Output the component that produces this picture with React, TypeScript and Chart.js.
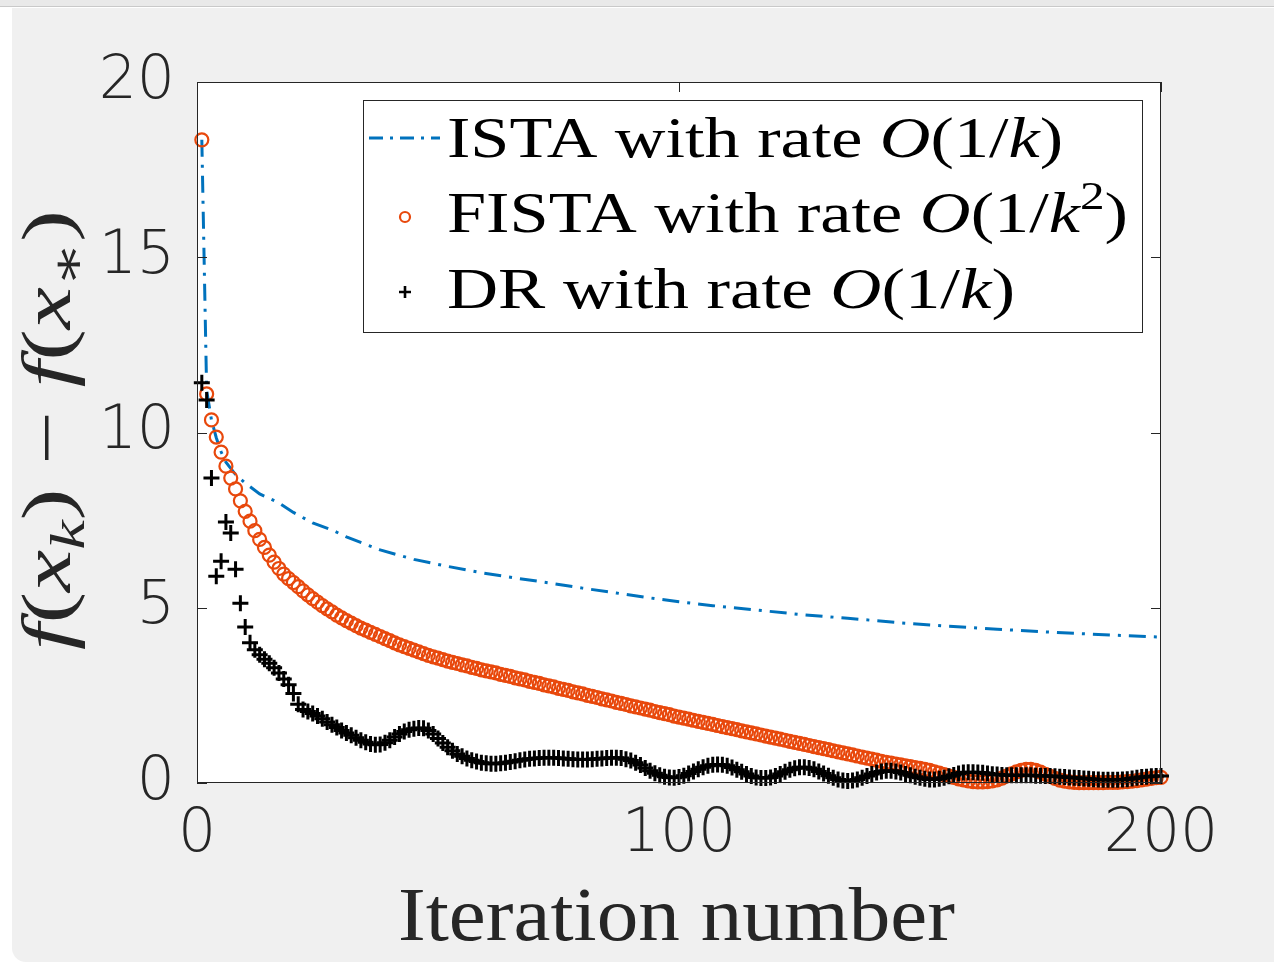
import React, { useEffect, useRef } from 'react';
import { Chart, registerables } from 'chart.js';

Chart.register(...registerables);

// ---------- data ----------
const xTicks = [0, 100, 200];
const yTicks = [0, 5, 10, 15, 20];

const istaIterations = [1, 2, 3, 4, 5, 6, 8, 10, 13, 17, 20, 24, 28, 31, 38, 45, 52, 59, 66, 73, 80, 87, 94, 100, 107, 115, 125, 135, 146, 156, 166, 176, 187, 200];
const istaValues = [18.35, 11.2, 10.36, 9.85, 9.45, 9.15, 8.8, 8.56, 8.25, 7.99, 7.72, 7.42, 7.22, 7.02, 6.65, 6.38, 6.18, 6.0, 5.85, 5.71, 5.56, 5.42, 5.28, 5.17, 5.06, 4.95, 4.81, 4.7, 4.57, 4.47, 4.39, 4.31, 4.24, 4.16];

const fistaValues = [
  18.35, 11.1, 10.36, 9.87, 9.44, 9.04, 8.7, 8.39, 8.05, 7.75,
  7.47, 7.2, 6.95, 6.72, 6.5, 6.3, 6.12, 5.96, 5.83, 5.72,
  5.6, 5.48, 5.37, 5.26, 5.16, 5.06, 4.97, 4.88, 4.79, 4.71,
  4.63, 4.56, 4.49, 4.42, 4.36, 4.3, 4.24, 4.18, 4.12, 4.06,
  4.0, 3.94, 3.89, 3.84, 3.79, 3.74, 3.69, 3.64, 3.6, 3.56,
  3.52, 3.48, 3.44, 3.41, 3.37, 3.34, 3.3, 3.27, 3.23, 3.2,
  3.17, 3.14, 3.1, 3.07, 3.04, 3.0, 2.97, 2.94, 2.9, 2.87,
  2.84, 2.8, 2.77, 2.74, 2.7, 2.67, 2.64, 2.6, 2.57, 2.54,
  2.5, 2.47, 2.44, 2.4, 2.37, 2.34, 2.3, 2.27, 2.24, 2.2,
  2.17, 2.14, 2.11, 2.08, 2.04, 2.01, 1.98, 1.95, 1.91, 1.88,
  1.85, 1.82, 1.79, 1.76, 1.73, 1.7, 1.67, 1.64, 1.61, 1.58,
  1.55, 1.52, 1.49, 1.46, 1.43, 1.4, 1.37, 1.34, 1.31, 1.28,
  1.25, 1.22, 1.19, 1.16, 1.13, 1.1, 1.07, 1.04, 1.01, 0.98,
  0.95, 0.92, 0.89, 0.86, 0.83, 0.8, 0.77, 0.74, 0.71, 0.68,
  0.65, 0.62, 0.59, 0.57, 0.54, 0.52, 0.49, 0.47, 0.44, 0.42,
  0.39, 0.36, 0.32, 0.28, 0.24, 0.2, 0.16, 0.12, 0.09, 0.06,
  0.04, 0.03, 0.03, 0.04, 0.06, 0.09, 0.14, 0.2, 0.26, 0.32,
  0.36, 0.39, 0.39, 0.36, 0.31, 0.25, 0.19, 0.13, 0.08, 0.05,
  0.03, 0.02, 0.01, 0.01, 0.01, 0.01, 0.01, 0.01, 0.02, 0.02,
  0.02, 0.03, 0.04, 0.05, 0.07, 0.09, 0.11, 0.13, 0.15, 0.16,
];

const drValues = [
  11.42, 10.93, 8.7, 5.9, 6.33, 7.45, 7.13, 6.1, 5.13, 4.45,
  4.0, 3.8, 3.66, 3.53, 3.42, 3.29, 3.14, 2.97, 2.8, 2.55,
  2.25, 2.1, 2.04, 1.98, 1.91, 1.83, 1.74, 1.66, 1.58, 1.5,
  1.43, 1.36, 1.29, 1.22, 1.16, 1.11, 1.09, 1.1, 1.15, 1.22,
  1.31, 1.4, 1.47, 1.52, 1.55, 1.57, 1.56, 1.5, 1.4, 1.27,
  1.14, 1.02, 0.92, 0.83, 0.76, 0.7, 0.65, 0.61, 0.58, 0.56,
  0.55, 0.55, 0.56, 0.58, 0.6, 0.62, 0.65, 0.67, 0.69, 0.7,
  0.71, 0.72, 0.72, 0.72, 0.71, 0.7, 0.69, 0.68, 0.67, 0.67,
  0.67, 0.68, 0.69, 0.7, 0.71, 0.72, 0.72, 0.71, 0.68, 0.64,
  0.58, 0.51, 0.43, 0.35, 0.28, 0.22, 0.18, 0.16, 0.15, 0.17,
  0.21, 0.27, 0.33, 0.39, 0.45, 0.49, 0.52, 0.53, 0.52, 0.49,
  0.44, 0.38, 0.32, 0.26, 0.2, 0.16, 0.14, 0.14, 0.16, 0.2,
  0.26, 0.32, 0.38, 0.42, 0.45, 0.45, 0.43, 0.39, 0.33, 0.27,
  0.21, 0.15, 0.1, 0.07, 0.06, 0.07, 0.1, 0.15, 0.2, 0.26,
  0.3, 0.33, 0.35, 0.35, 0.33, 0.3, 0.26, 0.22, 0.18, 0.15,
  0.12, 0.1, 0.1, 0.12, 0.15, 0.19, 0.23, 0.27, 0.3, 0.31,
  0.31, 0.3, 0.29, 0.27, 0.25, 0.24, 0.23, 0.22, 0.22, 0.22,
  0.22, 0.22, 0.22, 0.21, 0.21, 0.2, 0.2, 0.19, 0.18, 0.17,
  0.16, 0.15, 0.14, 0.13, 0.12, 0.11, 0.1, 0.09, 0.09, 0.09,
  0.09, 0.1, 0.11, 0.13, 0.15, 0.17, 0.18, 0.19, 0.2, 0.2,
];

type Seg = { t: string; i?: boolean; sub?: boolean; sup?: boolean };

const istaLabel: Seg[] = [{ t: 'ISTA with rate ' }, { t: 'O', i: true }, { t: '(1/' }, { t: 'k', i: true }, { t: ')' }];
const fistaLabel: Seg[] = [{ t: 'FISTA with rate ' }, { t: 'O', i: true }, { t: '(1/' }, { t: 'k', i: true }, { t: '2', sup: true }, { t: ')' }];
const drLabel: Seg[] = [{ t: 'DR with rate ' }, { t: 'O', i: true }, { t: '(1/' }, { t: 'k', i: true }, { t: ')' }];
const xTitle: Seg[] = [{ t: 'Iteration number' }];
const yTitle: Seg[] = [
  { t: 'f', i: true }, { t: '(' }, { t: 'x', i: true }, { t: 'k', i: true, sub: true }, { t: ')' },
  { t: ' \u2212 ' },
  { t: 'f', i: true }, { t: '(' }, { t: 'x', i: true }, { t: '\u2217', sub: true }, { t: ')' },
];

// ---------- styles ----------
const BLUE = '#0072bd';
const ORANGE = '#e8480c';
const AXIS = '#262626';
const SERIF = "'Liberation Serif', 'DejaVu Serif', serif";
const SANS = "'DejaVu Sans', 'Liberation Sans', sans-serif";

function fontFor(size: number, italic?: boolean) {
  return `${italic ? 'italic ' : ''}${size}px ${SERIF}`;
}

function drawRich(ctx: CanvasRenderingContext2D, segs: Seg[], size: number, target: number) {
  const widths = segs.map((s) => {
    ctx.font = fontFor(s.sub || s.sup ? size * 0.7 : size, s.i);
    return ctx.measureText(s.t).width;
  });
  const total = widths.reduce((a, b) => a + b, 0);
  ctx.scale(target / total, 1);
  let x = 0;
  segs.forEach((s, idx) => {
    ctx.font = fontFor(s.sub || s.sup ? size * 0.7 : size, s.i);
    const dy = s.sub ? size * 0.2 : s.sup ? -size * 0.4 : 0;
    ctx.fillText(s.t, x, dy);
    x += widths[idx];
  });
}

const framePlugin = {
  id: 'matlabFrame',
  beforeDraw(chart: any) {
    const { ctx, chartArea: a } = chart;
    ctx.save();
    ctx.fillStyle = '#ffffff';
    ctx.fillRect(a.left, a.top, a.right - a.left, a.bottom - a.top);
    ctx.restore();
  },
  afterDraw(chart: any) {
    const { ctx, chartArea: a, scales } = chart;
    ctx.save();
    // frame
    ctx.strokeStyle = AXIS;
    ctx.lineWidth = 1;
    ctx.strokeRect(Math.round(a.left) + 0.5, Math.round(a.top) + 0.5, Math.round(a.right - a.left) - 1, Math.round(a.bottom - a.top) - 1);
    // inner ticks
    const tl = 10;
    ctx.beginPath();
    yTicks.forEach((v) => {
      const y = Math.round(scales.y.getPixelForValue(v)) + 0.5;
      ctx.moveTo(a.left, y); ctx.lineTo(a.left + tl, y);
      ctx.moveTo(a.right, y); ctx.lineTo(a.right - tl, y);
    });
    xTicks.forEach((v) => {
      const x = Math.round(scales.x.getPixelForValue(v)) + 0.5;
      ctx.moveTo(x, a.bottom); ctx.lineTo(x, a.bottom - tl);
      ctx.moveTo(x, a.top); ctx.lineTo(x, a.top + tl);
    });
    ctx.stroke();

    // legend
    ctx.fillStyle = '#ffffff';
    ctx.fillRect(363, 100, 779, 232);
    ctx.strokeStyle = AXIS;
    ctx.lineWidth = 1;
    ctx.strokeRect(363.5, 100.5, 779, 232);

    ctx.strokeStyle = BLUE;
    ctx.lineWidth = 3;
    ctx.setLineDash([14, 7, 3, 7]);
    ctx.beginPath();
    ctx.moveTo(369, 138); ctx.lineTo(440, 138);
    ctx.stroke();
    ctx.setLineDash([]);

    ctx.strokeStyle = ORANGE;
    ctx.lineWidth = 2.2;
    ctx.beginPath();
    ctx.arc(405, 217, 5, 0, Math.PI * 2);
    ctx.stroke();

    ctx.strokeStyle = '#000000';
    ctx.lineWidth = 2.6;
    ctx.beginPath();
    ctx.moveTo(399, 292); ctx.lineTo(411, 292);
    ctx.moveTo(405, 286); ctx.lineTo(405, 298);
    ctx.stroke();

    ctx.fillStyle = '#000000';
    ctx.textBaseline = 'alphabetic';
    ctx.textAlign = 'left';
    const rows: [Seg[], number, number][] = [
      [istaLabel, 157, 616],
      [fistaLabel, 232, 681],
      [drLabel, 308, 568],
    ];
    rows.forEach(([segs, base, w]) => {
      ctx.save();
      ctx.translate(447, base);
      drawRich(ctx, segs, 57, w);
      ctx.restore();
    });

    // x title
    ctx.fillStyle = AXIS;
    ctx.save();
    ctx.translate(398, 940);
    drawRich(ctx, xTitle, 76, 557);
    ctx.restore();

    // y title
    ctx.save();
    ctx.translate(70, 650);
    ctx.rotate(-Math.PI / 2);
    drawRich(ctx, yTitle, 70, 440);
    ctx.restore();

    ctx.restore();
  },
};

export default function App() {
  const ref = useRef<HTMLCanvasElement>(null);

  useEffect(() => {
    if (!ref.current) return;
    const chart = new Chart(ref.current, {
      type: 'scatter',
      data: {
        datasets: [
          {
            label: 'ISTA',
            data: istaIterations.map((k, i) => ({ x: k, y: istaValues[i] })),
            showLine: true,
            borderColor: BLUE,
            borderWidth: 3,
            borderDash: [17, 8, 3, 8],
            pointRadius: 0,
            tension: 0,
            order: 3,
          },
          {
            label: 'FISTA',
            data: fistaValues.map((v, i) => ({ x: i + 1, y: v })),
            showLine: false,
            pointStyle: 'circle',
            pointRadius: 6.5,
            borderWidth: 2.2,
            pointBorderWidth: 2.2,
            pointBorderColor: ORANGE,
            pointBackgroundColor: 'rgba(0,0,0,0)',
            backgroundColor: 'rgba(0,0,0,0)',
            borderColor: ORANGE,
            clip: false,
            order: 2,
          },
          {
            label: 'DR',
            data: drValues.map((v, i) => ({ x: i + 1, y: v })),
            showLine: false,
            pointStyle: 'cross',
            pointRadius: 8,
            borderWidth: 3,
            pointBorderWidth: 3,
            pointBorderColor: '#000000',
            borderColor: '#000000',
            clip: false,
            order: 1,
          },
        ],
      } as any,
      options: {
        animation: false,
        responsive: false,
        devicePixelRatio: 1,
        events: [],
        layout: { padding: { left: 0, top: 82, right: 113, bottom: 0 } },
        plugins: { legend: { display: false }, tooltip: { enabled: false } },
        scales: {
          x: {
            type: 'linear',
            min: 0,
            max: 200,
            afterBuildTicks: (s: any) => { s.ticks = xTicks.map((v) => ({ value: v })); },
            afterFit: (s: any) => { s.height = 183; },
            grid: { display: false, drawTicks: false },
            border: { display: false },
            ticks: { color: AXIS, font: { family: SANS, size: 60, weight: '200' }, padding: 16, maxRotation: 0, autoSkip: false },
          },
          y: {
            type: 'linear',
            min: 0,
            max: 20,
            afterBuildTicks: (s: any) => { s.ticks = yTicks.map((v) => ({ value: v })); },
            afterFit: (s: any) => { s.width = 197; },
            grid: { display: false, drawTicks: false },
            border: { display: false },
            ticks: { color: AXIS, font: { family: SANS, size: 60, weight: '200' }, padding: 22, autoSkip: false },
          },
        },
      } as any,
      plugins: [framePlugin],
    });
    return () => chart.destroy();
  }, []);

  return (
    <div style={{ position: 'absolute', left: 0, top: 0, width: 1274, height: 966, background: '#ffffff', overflow: 'hidden' }}>
      <div style={{ position: 'absolute', left: 0, top: 0, width: 1274, height: 6, background: '#e9e9e9', borderBottom: '1px solid #c9c9c9' }} />
      <div style={{ position: 'absolute', left: 12, top: 8, width: 1262, height: 954, background: '#f0f0f0', borderBottomLeftRadius: 14 }} />
      <canvas ref={ref} width={1274} height={966} style={{ position: 'absolute', left: 0, top: 0, width: 1274, height: 966 }} />
    </div>
  );
}
